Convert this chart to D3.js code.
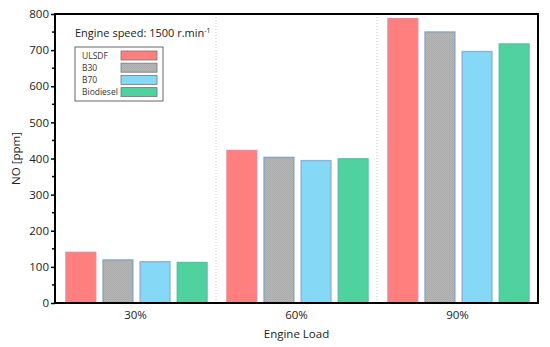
<!DOCTYPE html>
<html>
<head>
<meta charset="utf-8">
<script src="https://cdn.jsdelivr.net/npm/d3@7"></script>
<style>
body { margin: 0; background: #fff; }
text { font-family: "Open Sans", sans-serif; fill: #222; }
</style>
</head>
<body>
<script>
var loads = ["30%", "60%", "90%"];
var fuels = ["ULSDF", "B30", "B70", "Biodiesel"];
var ulsdf = [140, 422, 787];
var b30 = [119, 403, 750];
var b70 = [114, 394, 696];
var biodiesel = [112, 399, 717];
var yTicks = [0, 100, 200, 300, 400, 500, 600, 700, 800];

var colors = ["#ff7f7f", "#b4b4b4", "#85d9f7", "#4fd29e"];
var strokes = ["#e58a9a", "#8aa6bf", "#8fb4d8", "#5cc0a8"];

var values = [ulsdf, b30, b70, biodiesel];
var data = [];
loads.forEach(function (l, i) {
    fuels.forEach(function (f, j) {
        data.push({ load: l, fuel: f, idx: j, value: values[j][i] });
    });
});

var W = 550, H = 347;
var margin = { left: 55, right: 12, top: 14, bottom: 44 };

var svg = d3.select("body").append("svg")
    .attr("width", W)
    .attr("height", H);

var defs = svg.append("defs");
var pat = defs.append("pattern")
    .attr("id", "checker")
    .attr("width", 2).attr("height", 2)
    .attr("patternUnits", "userSpaceOnUse");
pat.append("rect").attr("width", 2).attr("height", 2).attr("fill", "#b6b6b6");
pat.append("rect").attr("width", 1).attr("height", 1).attr("fill", "#acacac");
pat.append("rect").attr("x", 1).attr("y", 1).attr("width", 1).attr("height", 1).attr("fill", "#acacac");

var x0 = d3.scaleBand()
    .domain(loads)
    .range([margin.left, W - margin.right]);

var x1 = d3.scaleBand()
    .domain(fuels)
    .range([11, x0.bandwidth() - 9])
    .paddingInner(0.2);

var y = d3.scaleLinear()
    .domain([0, 800])
    .range([H - margin.bottom, margin.top]);

// dotted group separators
svg.selectAll("line.sep").data(loads.slice(1)).enter().append("line")
    .attr("class", "sep")
    .attr("x1", function (d) { return x0(d); })
    .attr("x2", function (d) { return x0(d); })
    .attr("y1", y(800))
    .attr("y2", y(0))
    .attr("stroke", "#c8c8c8")
    .attr("stroke-width", 1)
    .attr("stroke-dasharray", "1,2");

// bars
svg.selectAll("rect.bar").data(data).enter().append("rect")
    .attr("class", "bar")
    .attr("x", function (d) { return x0(d.load) + x1(d.fuel); })
    .attr("y", function (d) { return y(d.value); })
    .attr("width", x1.bandwidth())
    .attr("height", function (d) { return y(0) - y(d.value); })
    .attr("fill", function (d) { return d.idx === 1 ? "url(#checker)" : colors[d.idx]; })
    .attr("stroke", function (d) { return strokes[d.idx]; })
    .attr("stroke-width", 1.5);

// y axis with minor ticks
var yAxis = d3.axisLeft(y).tickValues(yTicks).tickSize(4).tickSizeOuter(0);
var gy = svg.append("g")
    .attr("transform", "translate(" + margin.left + ",0)")
    .call(yAxis);
gy.select(".domain").remove();
gy.selectAll("line").attr("stroke", "#000").attr("stroke-width", 1.5);
gy.selectAll("text").attr("font-size", 11.5).attr("x", -6).style("font-family", "Open Sans");

var minor = d3.range(50, 800, 100);
svg.selectAll("line.minor").data(minor).enter().append("line")
    .attr("class", "minor")
    .attr("x1", margin.left - 3)
    .attr("x2", margin.left)
    .attr("y1", function (d) { return y(d); })
    .attr("y2", function (d) { return y(d); })
    .attr("stroke", "#000")
    .attr("stroke-width", 1.5);

// x labels
var xAxis = d3.axisBottom(x0).tickSize(0);
var gx = svg.append("g")
    .attr("transform", "translate(0," + y(0) + ")")
    .call(xAxis);
gx.select(".domain").remove();
gx.selectAll("text").attr("font-size", 11.5).attr("dy", "1.1em").style("font-family", "Open Sans");

// frame
svg.append("rect")
    .attr("x", margin.left)
    .attr("y", margin.top)
    .attr("width", W - margin.left - margin.right)
    .attr("height", y(0) - margin.top)
    .attr("fill", "none")
    .attr("stroke", "#000")
    .attr("stroke-width", 2);

// axis titles
svg.append("text")
    .attr("x", (margin.left + W - margin.right) / 2)
    .attr("y", 338)
    .attr("text-anchor", "middle")
    .attr("font-size", 11.5)
    .text("Engine Load");

svg.append("text")
    .attr("transform", "translate(20," + y(400) + ") rotate(-90)")
    .attr("text-anchor", "middle")
    .attr("font-size", 11.5)
    .text("NO [ppm]");

// annotation
var ann = svg.append("text")
    .attr("x", 75)
    .attr("y", 37)
    .attr("font-size", 11);
ann.append("tspan").text("Engine speed: 1500 r.min");
ann.append("tspan").attr("dy", -4).attr("font-size", 7).text("-1");

// legend
var lg = svg.append("g").attr("transform", "translate(75,47)");
lg.append("rect")
    .attr("width", 88)
    .attr("height", 54)
    .attr("fill", "#fff")
    .attr("stroke", "#666")
    .attr("stroke-width", 1);
var items = lg.selectAll("g.item").data(fuels).enter().append("g")
    .attr("class", "item")
    .attr("transform", function (d, i) { return "translate(0," + (8 + i * 12.2) + ")"; });
items.append("text")
    .attr("x", 7)
    .attr("y", 3.5)
    .attr("font-size", 8.5)
    .style("fill", "#333")
    .text(function (d) { return d; });
items.append("rect")
    .attr("x", 46)
    .attr("y", -4)
    .attr("width", 36)
    .attr("height", 9)
    .attr("fill", function (d, i) { return i === 1 ? "url(#checker)" : colors[i]; })
    .attr("stroke", "#777")
    .attr("stroke-width", 0.8);
</script>
</body>
</html>
